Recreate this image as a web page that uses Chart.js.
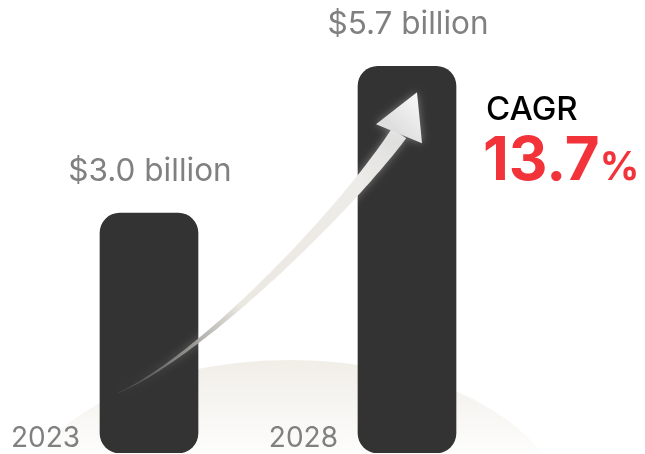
<!DOCTYPE html>
<html>
<head>
<meta charset="utf-8">
<script src="https://cdn.jsdelivr.net/npm/chart.js@4/dist/chart.umd.min.js"></script>
<style>
    html, body { margin: 0; padding: 0; background: #ffffff; }
    #wrap { width: 645px; height: 454px; position: relative; }
</style>
</head>
<body>
<div id="wrap"><canvas id="marketChart"></canvas></div>
<script>
// Market size (USD billion)
const years = ['2023', '2028'];
const marketSize = [3.0, 5.7];
const cagrTitle = 'CAGR';
const cagrValue = '13.7';

const FONT = 'Inter, "DejaVu Sans", sans-serif';

// soft beige glow behind the bars
const glowPlugin = {
    id: 'glow',
    beforeDatasetsDraw(chart) {
        const ctx = chart.ctx;
        ctx.save();
        const g = ctx.createLinearGradient(0, 360, 0, 454);
        g.addColorStop(0, '#f1eee8');
        g.addColorStop(1, '#fdfdfc');
        ctx.fillStyle = g;
        ctx.beginPath();
        ctx.ellipse(290, 515, 275, 155, 0, 0, Math.PI * 2);
        ctx.fill();
        ctx.restore();
    }
};

// growth arrow from first bar to second bar
const arrowPlugin = {
    id: 'arrow',
    afterDatasetsDraw(chart) {
        const bars = chart.getDatasetMeta(0).data;
        const b1 = bars[0], b2 = bars[1];
        const ctx = chart.ctx;
        const p0 = { x: b1.x - 31, y: b1.base - 60 };
        const p3 = { x: b2.x - 8, y: b2.y + 67 };
        const p1 = { x: p0.x + 82, y: p0.y - 36 };
        const p2 = { x: p3.x - 56, y: p3.y + 80 };
        const tip = { x: b2.x + 10, y: b2.y + 26 };
        const hl = { x: b2.x - 31, y: b2.y + 58 };
        const hr = { x: b2.x + 15, y: b2.y + 77 };

        const left = [], right = [];
        const n = 80;
        for (let i = 0; i <= n; i++) {
            const t = i / n, u = 1 - t;
            const x = u*u*u*p0.x + 3*u*u*t*p1.x + 3*u*t*t*p2.x + t*t*t*p3.x;
            const y = u*u*u*p0.y + 3*u*u*t*p1.y + 3*u*t*t*p2.y + t*t*t*p3.y;
            const dx = 3*u*u*(p1.x-p0.x) + 6*u*t*(p2.x-p1.x) + 3*t*t*(p3.x-p2.x);
            const dy = 3*u*u*(p1.y-p0.y) + 6*u*t*(p2.y-p1.y) + 3*t*t*(p3.y-p2.y);
            const len = Math.hypot(dx, dy) || 1;
            const nx = -dy / len, ny = dx / len;
            const w = (0.5 + 17 * Math.pow(t, 1.3)) / 2;
            left.push([x + nx * w, y + ny * w]);
            right.push([x - nx * w, y - ny * w]);
        }

        ctx.save();
        const g = ctx.createLinearGradient(p0.x, p0.y, tip.x, tip.y);
        g.addColorStop(0, 'rgba(120,120,120,0.3)');
        g.addColorStop(0.2, 'rgba(160,158,154,0.9)');
        g.addColorStop(0.35, '#ebe8e2');
        g.addColorStop(0.75, '#eeece8');
        g.addColorStop(0.9, '#dedede');
        g.addColorStop(1, '#f8f8f8');
        ctx.fillStyle = g;
        ctx.shadowColor = 'rgba(255,255,255,0.35)';
        ctx.shadowBlur = 8;
        ctx.beginPath();
        ctx.moveTo(left[0][0], left[0][1]);
        left.forEach(p => ctx.lineTo(p[0], p[1]));
        for (let i = right.length - 1; i >= 0; i--) ctx.lineTo(right[i][0], right[i][1]);
        ctx.closePath();
        ctx.fill();

        ctx.beginPath();
        ctx.moveTo(hl.x, hl.y);
        ctx.lineTo(tip.x, tip.y);
        ctx.lineTo(hr.x, hr.y);
        ctx.closePath();
        ctx.fill();
        ctx.restore();
    }
};

// value labels, year labels and CAGR callout
const labelPlugin = {
    id: 'labels',
    afterDraw(chart) {
        const ctx = chart.ctx;
        const bars = chart.getDatasetMeta(0).data;
        ctx.save();
        ctx.textBaseline = 'alphabetic';
        bars.forEach((bar, i) => {
            ctx.fillStyle = '#808080';
            ctx.font = '400 31.5px ' + FONT;
            ctx.textAlign = 'center';
            ctx.fillText('$' + marketSize[i].toFixed(1) + ' billion', bar.x + 1, bar.y - 32);

            ctx.font = '400 28px ' + FONT;
            ctx.textAlign = 'right';
            ctx.fillText(years[i], bar.x - bar.width / 2 - 20, 447);
        });

        ctx.textAlign = 'left';
        ctx.fillStyle = '#000000';
        ctx.font = '500 33px ' + FONT;
        ctx.fillText(cagrTitle, 486, 120);

        ctx.fillStyle = '#f2343a';
        ctx.font = '700 60px ' + FONT;
        ctx.fillText(cagrValue, 483, 180);
        const w = ctx.measureText(cagrValue).width;
        ctx.font = '700 39px ' + FONT;
        ctx.fillText('%', 483 + w, 180);
        ctx.restore();
    }
};

document.addEventListener('DOMContentLoaded', () => {
    const ctx = document.getElementById('marketChart').getContext('2d');
    new Chart(ctx, {
        type: 'bar',
        data: {
            labels: years,
            datasets: [{
                data: marketSize,
                backgroundColor: '#333333',
                borderRadius: 20,
                borderSkipped: false,
                barThickness: 98,
                base: -1.41
            }]
        },
        options: {
            responsive: true,
            maintainAspectRatio: false,
            animation: false,
            layout: { padding: { left: 20, right: 109, top: 0, bottom: 1 } },
            scales: {
                x: { display: false },
                y: { display: false, min: -1.41, max: 6.92 }
            },
            plugins: {
                legend: { display: false },
                tooltip: { enabled: false }
            }
        },
        plugins: [glowPlugin, arrowPlugin, labelPlugin]
    });
});
</script>
</body>
</html>
